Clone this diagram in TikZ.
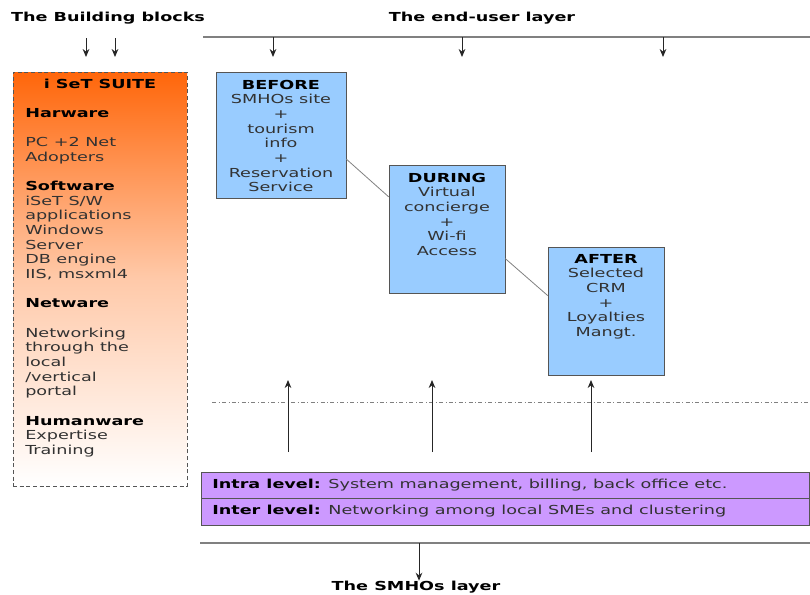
\documentclass[tikz,border=0pt]{standalone}
\usepackage{fontspec}
\setmainfont{DejaVu Sans}[FakeStretch=1.42]
\usetikzlibrary{arrows.meta,fit,calc,positioning}

\definecolor{phaseblue}{RGB}{153,204,255}
\definecolor{levelpurple}{RGB}{204,153,255}
\definecolor{suiteorange}{RGB}{255,102,10}
\definecolor{edgegray}{RGB}{85,85,85}
\definecolor{textgray}{RGB}{50,50,50}

\tikzset{
  heading/.style={font=\fontsize{9.3}{11}\selectfont\bfseries, text=black, inner sep=0pt},
  bodytext/.style={font=\fontsize{9.3}{11}\selectfont, text=textgray, inner sep=0pt},
  phasebox/.style={draw=edgegray, fill=phaseblue, inner sep=0pt},
  phasetext/.style={bodytext, anchor=north, align=center},
  levelbox/.style={draw=edgegray, fill=levelpurple, inner sep=0pt},
  suitebox/.style={draw=edgegray, densely dashed, inner sep=0pt,
    top color=suiteorange, bottom color=white, middle color=suiteorange!35!white},
  layerline/.style={draw=gray, line width=0.9pt},
  linkline/.style={draw=gray, line width=0.6pt},
  flowarrow/.style={->, draw=black!85, line width=0.7pt},
}

\begin{document}
\begin{tikzpicture}[x=0.75pt, y=-0.75pt, >={Stealth[length=6pt,width=5pt]}]
  \useasboundingbox (0,0) rectangle (810,594);

  % headings
  \node[heading] (blocks) at (108,18) {The Building blocks};
  \node[heading] (enduser) at (482,18) {The end-user layer};
  \node[heading] (smhos) at (416,587) {The SMHOs layer};

  % layer lines
  \coordinate (topL) at (203,37);
  \coordinate (topR) at (810,37);
  \draw[layerline] (topL) -- (topR);
  \coordinate (botL) at (200,543);
  \coordinate (botR) at (810,543);
  \draw[layerline] (botL) -- (botR);

  % arrows into the building blocks
  \foreach \x [count=\i] in {86,115} {
    \coordinate (bbtail\i) at (\x,38);
    \coordinate (bbtip\i) at (\x,57);
    \draw[flowarrow] (bbtail\i) -- (bbtip\i);
  }
  % arrows from the end-user layer
  \foreach \x [count=\i] in {273,462,663} {
    \coordinate (eutail\i) at (\x,37);
    \coordinate (eutip\i) at (\x,57);
    \draw[flowarrow] (eutail\i) -- (eutip\i);
  }

  % the suite
  \node[suitebox, fit={(13,72) (187,486)}] (suite) {};
  \node[heading, anchor=north] (suitetitle) at (100,79) {i SeT SUITE};
  \node[bodytext, anchor=north west, align=left] (suitelist) at (25,108) {%
    \textbf{\color{black}Harware}\\[11pt]
    PC +2 Net\\
    Adopters\\[11pt]
    \textbf{\color{black}Software}\\
    iSeT S/W\\
    applications\\
    Windows\\
    Server\\
    DB engine\\
    IIS, msxml4\\[11pt]
    \textbf{\color{black}Netware}\\[11pt]
    Networking\\
    through the\\
    local\\
    /vertical\\
    portal\\[11pt]
    \textbf{\color{black}Humanware}\\
    Expertise\\
    Training};

  % the three phases
  \node[phasebox, fit={(216,72) (346,198)}] (before) {};
  \node[phasetext] (beforetext) at ($(before.north)+(0,8)$) {%
    \textbf{\color{black}BEFORE}\\SMHOs site\\+\\tourism\\info\\+\\Reservation\\Service};
  \node[phasebox, fit={(389,165) (505,293)}] (during) {};
  \node[phasetext] (duringtext) at ($(during.north)+(0,8)$) {%
    \textbf{\color{black}DURING}\\Virtual\\concierge\\+\\Wi-fi\\Access};
  \node[phasebox, fit={(548,247) (664,375)}] (after) {};
  \node[phasetext] (aftertext) at ($(after.north)+(0,7)$) {%
    \textbf{\color{black}AFTER}\\Selected\\CRM\\+\\Loyalties\\Mangt.};

  \draw[linkline] ($(before.north east)!0.69!(before.south east)$)
    -- ($(during.north west)!0.25!(during.south west)$);
  \draw[linkline] ($(during.north east)!0.73!(during.south east)$)
    -- ($(after.north west)!0.38!(after.south west)$);

  % separator and arrows up from the SMHOs levels
  \coordinate (sepL) at (212,402);
  \coordinate (sepR) at (810,402);
  \draw[draw=gray, dash dot, line width=0.5pt] (sepL) -- (sepR);
  \foreach \x [count=\i] in {288,432,591} {
    \coordinate (uptail\i) at (\x,452);
    \coordinate (uptip\i) at (\x,380);
    \draw[flowarrow] (uptail\i) -- (uptip\i);
  }

  % the two levels
  \node[levelbox, fit={(201,472) (809,498)}] (intra) {};
  \node[bodytext, anchor=west] (intratext) at (212,485)
    {\textbf{\color{black}Intra level:} System management, billing, back office etc.};
  \node[levelbox, fit={(201,498) (809,525)}] (inter) {};
  \node[bodytext, anchor=west] (intertext) at (212,511)
    {\textbf{\color{black}Inter level:} Networking among local SMEs and clustering};

  % down to the SMHOs layer
  \coordinate (downtail) at (419,543);
  \draw[flowarrow] (downtail) -- (downtail |- smhos.north);
\end{tikzpicture}
\end{document}
